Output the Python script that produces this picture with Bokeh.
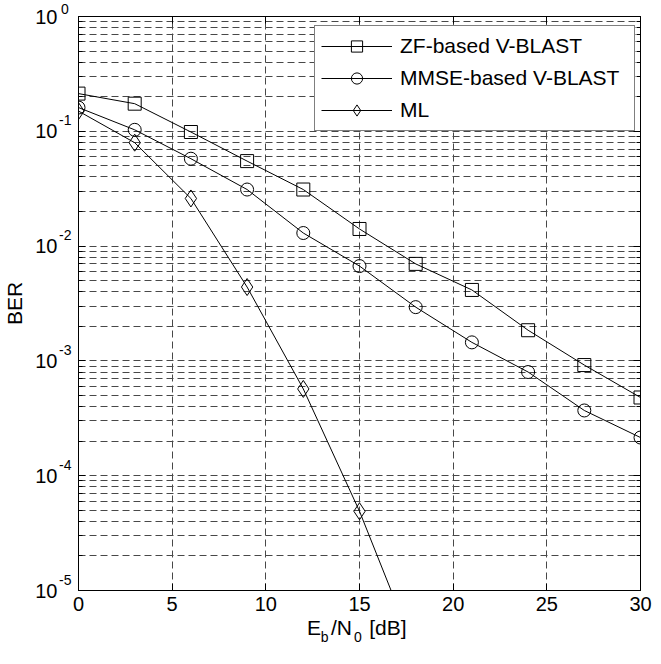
import math
from bokeh.plotting import figure
from bokeh.models import (Range1d, FixedTicker, CustomJSTickFormatter, LinearAxis, LogAxis,
                          Legend, LegendItem)
from bokeh.embed import file_html
from bokeh.resources import INLINE

# ---------------- data ----------------
snr_db = [0, 3, 6, 9, 12, 15, 18, 21, 24, 27, 30]
ber_zf = [0.213, 0.174, 0.0986, 0.055, 0.0311, 0.0141, 0.0070, 0.00415, 0.00185, 0.00092, 0.00048]
ber_mmse = [0.161, 0.103, 0.0577, 0.0311, 0.0130, 0.0067, 0.00294, 0.00145, 0.00080, 0.00037, 0.000215]
snr_ml = [0, 3, 6, 9, 12, 15, 18]
ber_ml = [0.150, 0.0796, 0.026, 0.0044, 0.00057, 4.9e-5, 2.9e-6]

series_labels = ["ZF-based V-BLAST", "MMSE-based V-BLAST", "ML"]
x_ticks = [0, 5, 10, 15, 20, 25, 30]
y_decades = [1e-5, 1e-4, 1e-3, 1e-2, 1e-1, 1.0]
y_tick_base = ["10"] * len(y_decades)
y_tick_exp = ["-5", "-4", "-3", "-2", "-1", "0\u2009"]
x_title_main = ["E", "/N", "[dB]"]      # x-axis title, normal-size parts
x_title_sub = ["b", "0"]                # x-axis title, subscript parts
y_title = "BER"

# ---------------- layout constants (pixels) ----------------
FONT = "Liberation Sans"
GRID = "#484848"
W, H = 652, 648
FRAME_L, FRAME_R, FRAME_T, FRAME_B = 77, 12, 16, 58
FRAME_W, FRAME_H = W - FRAME_L - FRAME_R, H - FRAME_T - FRAME_B
TITLE_MAIN_DX = [-45.5, -18.0, 28.5]     # title part centres, px from frame centre
TITLE_SUB_DX = [-35.0, -1.5]
EXP_RAISE = 11                           # superscript raise, px

x_lo, x_hi = x_ticks[0], x_ticks[-1]
y_lo, y_hi = y_decades[0], y_decades[-1]
px_per_x = FRAME_W / (x_hi - x_lo)
px_per_decade = FRAME_H / math.log10(y_hi / y_lo)
x_mid = (x_lo + x_hi) / 2

p = figure(width=W, height=H, x_range=Range1d(x_lo, x_hi), y_range=Range1d(y_lo, y_hi),
           y_axis_type="log", output_backend="svg", toolbar_location=None, title=None,
           min_border_left=FRAME_L, min_border_right=FRAME_R,
           min_border_top=FRAME_T, min_border_bottom=FRAME_B)
p.background_fill_color = "white"
p.border_fill_color = "white"
p.outline_line_color = "black"
p.outline_line_width = 1

p.add_layout(LinearAxis(), "above")
p.add_layout(LogAxis(), "right")

minor = [m * d for d in y_decades[:-1] for m in range(2, 10)]
yticker = FixedTicker(ticks=y_decades, minor_ticks=minor)
xticker = FixedTicker(ticks=x_ticks)
blank = CustomJSTickFormatter(code="return ''")

for ax in p.xaxis:
    ax.ticker = xticker
    ax.minor_tick_line_color = None
for ax in p.yaxis:
    ax.ticker = yticker
    ax.formatter = blank
    ax.major_label_standoff = 0
    ax.minor_tick_in = 4
    ax.minor_tick_out = 0
    ax.minor_tick_line_color = "black"
for ax in p.axis:
    ax.axis_line_color = "black"
    ax.major_tick_in = 7
    ax.major_tick_out = 0
    ax.major_tick_line_color = "black"
p.above[0].formatter = blank
p.above[0].major_label_standoff = 0

bx = p.below[0]
bx.major_label_text_font = FONT
bx.major_label_text_font_size = "20px"
bx.major_label_text_color = "black"
bx.major_label_standoff = 6


def label_axis(kind, place, pos, texts, size, standoff):
    ax = kind(ticker=FixedTicker(ticks=pos), minor_tick_line_color=None,
              major_tick_line_color=None, axis_line_color=None,
              major_tick_in=0, major_tick_out=0,
              major_label_standoff=standoff,
              major_label_overrides=dict(zip(pos, texts)),
              major_label_text_font=FONT, major_label_text_font_size=size,
              major_label_text_color="black")
    p.add_layout(ax, place)
    return ax


# y tick labels "10" with a raised, smaller exponent (two label-only axes).
# Exponents are raised by shifting their tick; the top one (which would fall
# outside the range) is raised with an empty second text line instead.
raise_f = 10 ** (EXP_RAISE / px_per_decade)
exp_pos = [d * raise_f for d in y_decades[:-1]] + [y_decades[-1]]
exp_txt = y_tick_exp[:-1] + [y_tick_exp[-1] + "\n\u2009"]
exp_ax = label_axis(LogAxis, "left", exp_pos, exp_txt, "14px", 7)
exp_ax.major_label_text_line_height = 1.5
base_ax = label_axis(LogAxis, "left", list(y_decades), y_tick_base, "20px", -1)
base_ax.axis_label = y_title
base_ax.axis_label_text_font = FONT
base_ax.axis_label_text_font_size = "21px"
base_ax.axis_label_text_font_style = "normal"
base_ax.axis_label_text_color = "black"
base_ax.axis_label_standoff = 6

# x-axis title "E_b/N_0 [dB]" (two label-only axes under the tick axis)
label_axis(LinearAxis, "below", [x_mid + d / px_per_x for d in TITLE_MAIN_DX],
           x_title_main, "21px", 2)
label_axis(LinearAxis, "below", [x_mid + d / px_per_x for d in TITLE_SUB_DX],
           x_title_sub, "14px", -13)

p.xgrid.ticker = xticker
p.ygrid.ticker = yticker
p.xgrid.grid_line_color = GRID
p.xgrid.grid_line_dash = "7 4"
p.ygrid.grid_line_color = GRID
p.ygrid.grid_line_dash = "7 4"
p.ygrid.minor_grid_line_color = GRID
p.ygrid.minor_grid_line_dash = "7 4"

l1 = p.line(snr_db, ber_zf, line_color="black", line_width=1)
s1 = p.scatter(snr_db, ber_zf, marker="square", size=13, fill_color=None, line_color="black")
l2 = p.line(snr_db, ber_mmse, line_color="black", line_width=1)
s2 = p.scatter(snr_db, ber_mmse, marker="circle", size=13, fill_color=None, line_color="black")
l3 = p.line(snr_ml, ber_ml, line_color="black", line_width=1)
s3 = p.scatter(snr_ml, ber_ml, marker="diamond", size=17, fill_color=None, line_color="black")

legend = Legend(items=[LegendItem(label=series_labels[0], renderers=[l1, s1]),
                       LegendItem(label=series_labels[1], renderers=[l2, s2]),
                       LegendItem(label=series_labels[2], renderers=[l3, s3])],
                location=(236, 459))
legend.border_line_color = "black"
legend.border_line_width = 1
legend.background_fill_color = "white"
legend.background_fill_alpha = 1
legend.padding = 6
legend.spacing = 4
legend.margin = 0
legend.glyph_width = 71
legend.glyph_height = 28
legend.label_height = 28
legend.label_width = 228
legend.label_standoff = 8
legend.label_text_font = FONT
legend.label_text_font_size = "21px"
legend.label_text_color = "black"
p.add_layout(legend)

open("out.html", "w").write(file_html(p, INLINE))
